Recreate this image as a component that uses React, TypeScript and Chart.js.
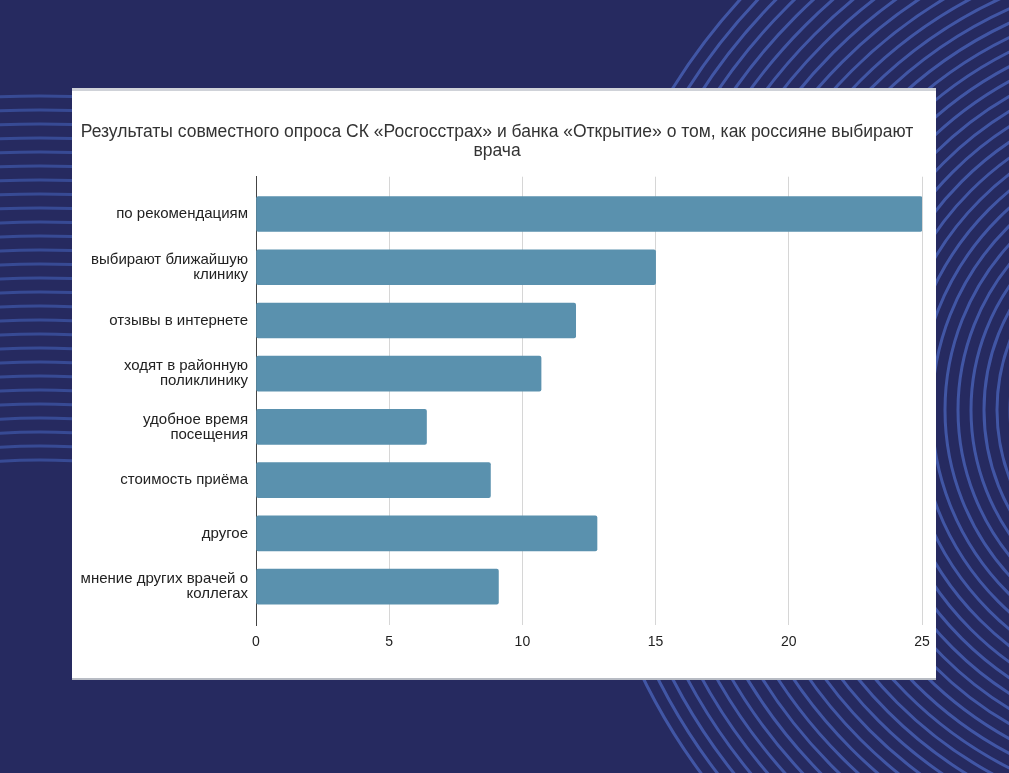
import React, { useEffect, useRef } from "react";
import { Chart, registerables } from "chart.js";

Chart.register(...registerables);

const categories: string[][] = [
  ["по рекомендациям"],
  ["выбирают ближайшую", "клинику"],
  ["отзывы в интернете"],
  ["ходят в районную", "поликлинику"],
  ["удобное время", "посещения"],
  ["стоимость приёма"],
  ["другое"],
  ["мнение других врачей о", "коллегах"],
];
const values: number[] = [25, 15, 12, 10.7, 6.4, 8.8, 12.8, 9.1];
const xTicks: number[] = [0, 5, 10, 15, 20, 25];
const titleLines: string[] = [
  "Результаты совместного опроса СК «Росгосстрах» и банка «Открытие» о том, как россияне выбирают",
  "врача",
];

const FONT = "Arial, 'Liberation Sans', sans-serif";

function Decor() {
  const right: number[] = [];
  for (let r = 180; r <= 610; r += 13) right.push(r);
  const left: number[] = [];
  for (let r = 640; r <= 1010; r += 14) left.push(r);
  return (
    <svg
      width={1009}
      height={773}
      style={{ position: "absolute", left: 0, top: 0 }}
    >
      <defs>
        <clipPath id="leftClip">
          <rect x={0} y={0} width={72} height={773} />
        </clipPath>
      </defs>
      {right.map((r, i) => (
        <circle
          key={"r" + i}
          cx={1190}
          cy={410}
          r={r}
          fill="none"
          stroke="#4862b6"
          strokeWidth={3}
          opacity={0.8}
        />
      ))}
      <g clipPath="url(#leftClip)">
        {left.map((r, i) => (
          <circle
            key={"l" + i}
            cx={40}
            cy={1100}
            r={r}
            fill="none"
            stroke="#3d55a6"
            strokeWidth={3}
            opacity={0.75}
          />
        ))}
      </g>
    </svg>
  );
}

export default function App() {
  const ref = useRef<HTMLCanvasElement | null>(null);

  useEffect(() => {
    if (!ref.current) return;
    const chart = new Chart(ref.current, {
      type: "bar",
      data: {
        datasets: [
          {
            data: values.map((v, i) => ({ x: v, y: i })),
            backgroundColor: "#5a91ae",
            borderWidth: 0,
            borderRadius: 2,
            borderSkipped: false,
            barThickness: 35,
          },
        ],
      },
      options: {
        indexAxis: "y",
        animation: false,
        responsive: false,
        maintainAspectRatio: false,
        layout: { padding: { left: 0, right: 14, top: 0, bottom: 0 } },
        plugins: {
          legend: { display: false },
          tooltip: { enabled: false },
          title: {
            display: true,
            text: titleLines,
            color: "#333333",
            font: { family: FONT, size: 17.5, weight: "normal", lineHeight: 1.086 },
            padding: { top: 34.5, bottom: 16.2 },
          },
        },
        scales: {
          x: {
            type: "linear",
            min: 0,
            max: 25,
            bounds: "data",
            offset: false,
            afterBuildTicks: (s: any) => {
              s.ticks = xTicks.map((v) => ({ value: v }));
            },
            afterFit: (s: any) => {
              s.height = 55;
              s.paddingRight = 0;
              s.paddingLeft = 0;
            },
            ticks: {
              color: "#222222",
              font: { family: FONT, size: 14 },
              padding: 9,
            },
            grid: {
              color: "#d6d6d6",
              lineWidth: 1,
              drawTicks: false,
            },
            border: { display: false },
          },
          y: {
            type: "linear",
            reverse: true,
            min: -0.7,
            max: 7.72,
            bounds: "data",
            offset: false,
            afterBuildTicks: (s: any) => {
              s.ticks = categories.map((_, i) => ({ value: i }));
            },
            afterFit: (s: any) => {
              s.width = 184;
            },
            ticks: {
              autoSkip: false,
              color: "#222222",
              font: { family: FONT, size: 15, lineHeight: 1.0 },
              padding: 8,
              callback: (v: any) => {
                const i = Math.round(Number(v));
                return categories[i] ?? "";
              },
            },
            grid: { display: false, drawTicks: false, offset: false },
            border: { display: true, color: "#444444", width: 1 },
          },
        },
      },
    });
    return () => chart.destroy();
  }, []);

  return (
    <div
      style={{
        position: "fixed",
        left: 0,
        top: 0,
        width: 1009,
        height: 773,
        background: "#262a60",
        overflow: "hidden",
      }}
    >
      <Decor />
      <div
        style={{
          position: "absolute",
          left: 72,
          top: 88,
          width: 864,
          height: 592,
          background: "#ffffff",
          boxSizing: "border-box",
          borderTop: "3px solid #cfd2d8",
          borderBottom: "2px solid #b8bcc4",
        }}
      />
      <div style={{ position: "absolute", left: 72, top: 88, width: 864, height: 592 }}>
        <canvas ref={ref} width={864} height={592} style={{ display: "block" }} />
      </div>
    </div>
  );
}
